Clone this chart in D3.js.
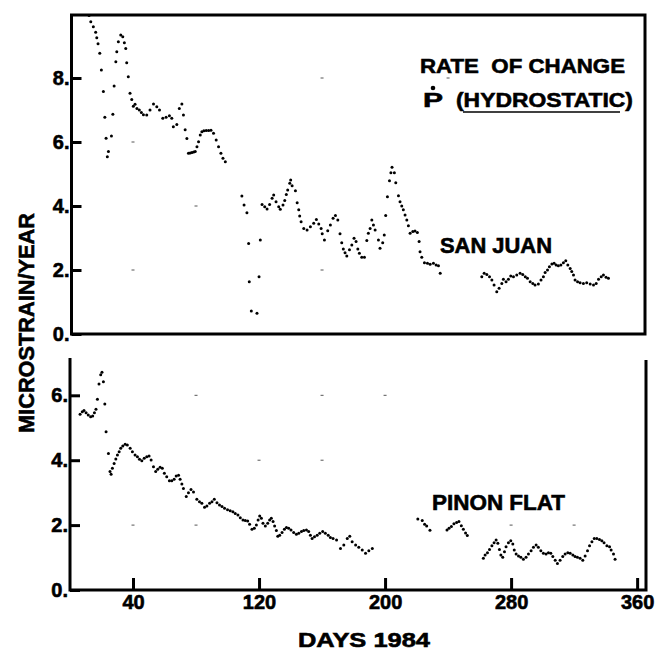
<!DOCTYPE html>
<html>
<head>
<meta charset="utf-8">
<script src="https://cdn.jsdelivr.net/npm/d3@7"></script>
<style>
  body { margin: 0; background: #fff; }
  text { font-family: "Liberation Sans", Arial, sans-serif; font-weight: bold; fill: #000; stroke: #000; stroke-width: 0.6px; }
</style>
</head>
<body>
<svg id="chart" width="671" height="651"></svg>
<script>
// San Juan, rate of change (microstrain / year), top panel
var sjDays = [12.1, 13.2, 14.8, 16.3, 17.0, 17.8, 18.9, 19.9, 21.2, 22.1, 22.9, 23.7, 24.4, 26.3, 27.2, 28.0,
  29.1, 29.7, 30.7, 32.2, 33.5, 34.5, 35.4, 36.0, 37.0, 38.1, 39.2, 40.2, 41.3, 42.5, 44.0, 45.3, 46.6, 48.7,
  50.8, 53.0, 55.1, 56.8, 58.9, 61.0, 63.1, 64.6, 65.6, 67.8, 69.4, 71.0, 72.0, 73.1, 74.2, 75.2, 76.3, 77.4,
  78.5, 79.5, 80.6, 81.6, 82.7, 83.7, 85.0, 86.5, 88.0, 89.5, 91.1, 92.8, 94.3, 95.8, 97.1, 98.6,
  109.1, 110.5, 112.3, 113.4, 113.8, 115.1, 118.7, 120.0, 120.8, 121.9, 123.6, 125.1, 126.7, 128.3, 129.3,
  130.8, 132.5, 133.5, 135.2, 136.3, 137.3, 138.2, 139.5, 140.1, 141.0, 143.1, 144.2, 145.2, 145.8, 146.7,
  148.4, 150.5, 152.6, 154.7, 156.4, 157.9, 159.4, 160.1, 161.5, 163.6, 165.3, 167.0, 168.5, 170.0, 171.4,
  172.5, 173.5, 174.6, 175.7, 177.4, 178.9, 180.3, 181.6, 182.7, 183.7, 185.2, 186.9, 188.4, 189.4, 190.5,
  191.6, 192.6, 193.7, 195.8, 196.8, 198.5, 199.5, 200.4, 201.5, 202.8, 203.7, 204.4, 205.9, 206.8, 208.5,
  209.5, 210.6, 211.6, 212.7, 213.8, 214.8, 215.9, 217.6, 219.0, 220.5, 221.6, 222.2, 223.3, 225.0, 226.9,
  228.6, 230.7, 232.4, 233.9, 235.0,
  261.4, 262.9, 264.6, 266.3, 267.8, 269.2, 270.9, 272.4, 274.1, 275.1, 276.8, 278.3, 279.8, 281.5, 283.6,
  285.7, 287.4, 289.0, 290.4, 292.1, 293.8, 295.2, 297.3, 299.0, 300.5, 301.6, 303.1, 304.3, 305.9, 307.3,
  308.6, 310.0, 311.6, 313.2, 314.7, 316.0, 317.5, 318.5, 319.6, 320.6, 322.2, 323.8, 325.9, 328.0, 330.2,
  332.3, 334.0, 335.5, 337.2, 338.6, 340.3, 341.8];
var sjRates = [9.95, 9.76, 9.60, 9.43, 9.26, 9.07, 8.77, 8.25, 7.58, 6.77, 6.12, 5.54, 5.70, 6.19, 6.87, 7.75,
  8.51, 8.82, 9.13, 9.34, 9.29, 9.10, 8.92, 8.48, 8.04, 7.52, 7.33, 7.12, 7.18, 7.05, 7.00, 6.92, 6.85, 6.84,
  7.00, 7.19, 7.10, 7.00, 6.74, 6.77, 6.82, 6.74, 6.48, 6.55, 7.05, 7.19, 6.84, 6.38, 6.11, 5.65, 5.66, 5.67,
  5.69, 5.70, 5.85, 6.01, 6.22, 6.32, 6.35, 6.36, 6.36, 6.37, 6.27, 6.06, 5.85, 5.65, 5.49, 5.38,
  4.31, 4.03, 3.79, 2.83, 1.63, 0.72, 0.65, 1.79, 2.94, 4.05, 3.98, 3.91, 4.05, 4.24, 4.34,
  4.13, 3.98, 3.90, 4.03, 4.17, 4.36, 4.50, 4.71, 4.81, 4.63, 4.48, 4.10, 3.88, 3.69, 3.51,
  3.30, 3.25, 3.35, 3.46, 3.58, 3.44, 3.30, 3.13, 2.94, 3.23, 3.41, 3.62, 3.70, 3.56, 3.13,
  2.85, 2.66, 2.54, 2.44, 2.63, 2.78, 2.99, 2.89, 2.66, 2.52, 2.40, 2.40, 2.92, 3.15, 3.30,
  3.56, 3.41, 3.25, 2.94, 2.68, 2.85, 3.09, 3.70, 4.29, 4.79, 5.04, 5.21, 5.04, 4.73, 4.32,
  4.13, 4.00, 3.88, 3.72, 3.56, 3.38, 3.15, 3.20, 3.22, 3.17, 2.89, 2.57, 2.40, 2.23, 2.21,
  2.18, 2.21, 2.16, 2.13, 1.90,
  1.79, 1.90, 1.86, 1.79, 1.69, 1.53, 1.32, 1.43, 1.58, 1.71, 1.63, 1.71, 1.81, 1.79, 1.84,
  1.90, 1.86, 1.79, 1.74, 1.63, 1.58, 1.53, 1.56, 1.69, 1.79, 1.92, 2.00, 2.10, 2.19, 2.21,
  2.16, 2.13, 2.16, 2.23, 2.29, 2.16, 2.05, 1.95, 1.84, 1.69, 1.63, 1.60, 1.58, 1.60, 1.56,
  1.53, 1.58, 1.71, 1.79, 1.84, 1.77, 1.74];

// Pinon Flat, bottom panel
var pfDays = [6.4, 7.8, 8.9, 10.2, 11.6, 13.1, 14.4, 15.5, 16.5, 17.4, 18.4, 19.5, 20.3, 21.2, 22.1, 22.9,
  24.4, 25.4, 26.1, 26.9, 28.0, 29.1, 30.1, 31.2, 32.2, 33.5, 35.0, 36.4, 38.2, 39.6, 41.3, 42.8, 44.1, 45.6,
  47.1, 48.7, 50.2, 51.5, 53.0, 54.4, 55.7, 57.2, 58.6, 59.9, 61.4, 63.1, 64.6, 66.1, 67.4, 68.9, 69.9, 71.0,
  72.0, 73.8, 75.2, 76.8, 78.4, 80.5, 82.2, 83.7, 85.4, 86.9, 88.6, 90.1, 91.6, 93.3, 94.9, 96.5, 98.1,
  100.0, 101.7, 103.4, 104.9, 106.6, 108.1, 109.8, 111.3, 112.8, 114.0, 115.5, 117.0, 118.3, 119.4, 120.4,
  121.5, 122.5, 124.0, 125.5, 126.7, 127.8, 128.9, 129.9, 131.0, 131.9, 133.1, 134.6, 136.1, 137.4, 138.8,
  140.3, 142.0, 143.7, 145.2, 146.9, 148.4, 150.1, 151.5, 152.6, 153.7, 155.2, 156.9, 158.5, 160.4, 162.1,
  163.9, 165.3, 167.0, 169.2, 171.7, 173.8, 176.0, 177.6, 179.1, 181.3, 183.3, 185.5, 187.6, 189.7, 191.9,
  220.8, 223.6, 225.1, 226.4, 228.5,
  239.3, 240.6, 242.1, 243.7, 245.4, 246.9, 248.4, 249.7, 251.1, 252.2,
  262.4, 263.5, 265.0, 266.3, 267.8, 269.2, 270.5, 271.6, 272.6, 273.5, 274.7, 275.8, 276.8, 278.3, 279.8,
  281.1, 282.0, 283.2, 284.7, 286.2, 287.8, 289.5, 291.0, 292.7, 294.2, 295.9, 297.3, 298.9, 300.5, 302.2,
  303.7, 305.2, 306.5, 308.0, 309.4, 311.1, 312.8, 314.3, 316.0, 317.5, 319.2, 320.6, 322.1, 323.8, 325.5,
  327.0, 328.5, 329.8, 331.3, 332.8, 334.4, 336.1, 337.6, 339.0, 340.8, 342.5, 343.5, 345.0, 346.0];
var pfRates = [5.42, 5.49, 5.53, 5.46, 5.39, 5.34, 5.36, 5.46, 5.57, 5.88, 6.35, 6.63, 6.71, 6.42, 5.73, 4.88,
  4.21, 3.65, 3.57, 3.75, 3.90, 4.04, 4.16, 4.26, 4.37, 4.44, 4.49, 4.47, 4.37, 4.26, 4.16, 4.11, 4.03, 3.98,
  4.06, 4.11, 4.13, 4.01, 3.80, 3.65, 3.72, 3.78, 3.75, 3.60, 3.49, 3.37, 3.37, 3.41, 3.51, 3.54, 3.41, 3.27,
  3.13, 2.88, 3.00, 3.10, 3.02, 2.80, 2.72, 2.67, 2.55, 2.59, 2.67, 2.72, 2.80, 2.69, 2.62, 2.57, 2.52,
  2.47, 2.44, 2.41, 2.36, 2.31, 2.23, 2.16, 2.14, 2.13, 2.03, 1.87, 1.90, 2.00, 2.16, 2.28,
  2.21, 2.06, 1.97, 2.06, 2.16, 2.21, 2.11, 1.97, 1.83, 1.66, 1.69, 1.77, 1.87, 1.93, 1.90,
  1.85, 1.77, 1.72, 1.75, 1.80, 1.83, 1.85, 1.80, 1.69, 1.59, 1.64, 1.69, 1.75, 1.80, 1.75,
  1.69, 1.62, 1.59, 1.54, 1.28, 1.39, 1.59, 1.66, 1.49, 1.39, 1.32, 1.23, 1.13, 1.21, 1.28,
  2.19, 2.14, 2.03, 1.97, 1.84,
  1.85, 1.90, 1.96, 2.04, 2.08, 2.11, 1.98, 1.87, 1.76, 1.68,
  0.98, 1.08, 1.15, 1.25, 1.36, 1.46, 1.54, 1.44, 1.25, 1.08, 1.01, 1.18, 1.33, 1.46, 1.52,
  1.42, 1.23, 1.11, 1.05, 1.01, 0.95, 1.01, 1.11, 1.21, 1.32, 1.39, 1.32, 1.21, 1.13, 1.11,
  1.15, 1.13, 1.03, 0.92, 0.82, 0.92, 1.03, 1.11, 1.15, 1.13, 1.08, 1.03, 1.01, 0.98, 0.92,
  1.05, 1.21, 1.36, 1.49, 1.59, 1.59, 1.56, 1.52, 1.46, 1.36, 1.33, 1.23, 1.11, 0.95];

var xTicks = [40, 120, 200, 280, 360];
var topYTicks = [0, 2, 4, 6, 8];
var botYTicks = [0, 2, 4, 6];

// faint grid crosses that show through on the print: [day, value]
var topGridMarks = [[40, 6], [80, 4], [40, 2], [160, 8], [160, 2], [240, 8]];
var botGridMarks = [[80, 6], [160, 6], [200, 6], [120, 4], [160, 4], [40, 2], [80, 2], [280, 2], [320, 2]];

var svg = d3.select("#chart");
svg.append("rect").attr("width", 671).attr("height", 651).attr("fill", "#fff");

var x = d3.scaleLinear().domain([0, 365]).range([70, 645]);
var yTop = d3.scaleLinear().domain([0, 10]).range([334, 14]);
var yBot = d3.scaleLinear().domain([0, 7.15]).range([590, 358]);

function drawGridMarks(marks, y) {
  svg.append("g").selectAll("line")
    .data(marks)
    .enter()
    .append("line")
    .attr("x1", function (d) { return x(d[0]) - 1.5; })
    .attr("x2", function (d) { return x(d[0]) + 1.5; })
    .attr("y1", function (d) { return y(d[1]); })
    .attr("y2", function (d) { return y(d[1]); })
    .attr("stroke", "#555")
    .attr("stroke-width", 1);
}

function drawDots(days, rates, y) {
  svg.append("g").selectAll("circle")
    .data(days)
    .enter()
    .append("circle")
    .attr("cx", function (d) { return x(d); })
    .attr("cy", function (d, i) { return y(rates[i]); })
    .attr("r", 1.5)
    .attr("fill", "#000");
}

function styleAxis(g, size) {
  g.select(".domain").remove();
  g.selectAll(".tick line").attr("stroke", "#000").attr("stroke-width", 3);
  g.selectAll(".tick text")
    .attr("font-size", size)
    .attr("font-family", "\"Liberation Sans\", Arial, sans-serif")
    .attr("font-weight", "bold")
    .attr("fill", "#000");
}

drawGridMarks(topGridMarks, yTop);
drawGridMarks(botGridMarks, yBot);

// top panel frame
svg.append("rect")
  .attr("x", x(0) + 1.5).attr("y", yTop(10) + 1)
  .attr("width", x(365) - x(0) - 1.5).attr("height", yTop(0) - yTop(10) - 1)
  .attr("fill", "none").attr("stroke", "#000").attr("stroke-width", 3);

// bottom panel: left, bottom and right lines only
svg.append("path")
  .attr("d", "M" + x(0) + "," + yBot(7.15) + "V" + yBot(0) + "H" + (x(365) + 1) + "V" + (yBot(7.15) + 2))
  .attr("fill", "none").attr("stroke", "#000").attr("stroke-width", 3);

var gTopY = svg.append("g")
  .attr("transform", "translate(" + (x(0) + 1.5) + ",0)")
  .call(d3.axisLeft(yTop).tickValues(topYTicks).tickSize(-10).tickPadding(2)
    .tickFormat(function (d) { return d + "."; }));
styleAxis(gTopY, 20);

var gBotY = svg.append("g")
  .attr("transform", "translate(" + x(0) + ",0)")
  .call(d3.axisLeft(yBot).tickValues(botYTicks).tickSize(-10).tickPadding(2)
    .tickFormat(function (d) { return d + "."; }));
styleAxis(gBotY, 20);

var gX = svg.append("g")
  .attr("transform", "translate(0," + yBot(0) + ")")
  .call(d3.axisBottom(x).tickValues(xTicks).tickSize(-12).tickPadding(5)
    .tickFormat(function (d) { return d; }));
styleAxis(gX, 20);

drawDots(sjDays, sjRates, yTop);
drawDots(pfDays, pfRates, yBot);

// labels
svg.append("text")
  .attr("transform", "translate(34,323) rotate(-90)")
  .attr("text-anchor", "middle")
  .attr("font-size", 22)
  .attr("textLength", 220).attr("lengthAdjust", "spacingAndGlyphs")
  .text("MICROSTRAIN/YEAR");

svg.append("text")
  .attr("x", 298).attr("y", 647)
  .attr("font-size", 21)
  .attr("textLength", 132).attr("lengthAdjust", "spacingAndGlyphs")
  .text("DAYS 1984");

svg.append("text")
  .attr("x", 420).attr("y", 73)
  .attr("font-size", 21)
  .attr("textLength", 205).attr("lengthAdjust", "spacingAndGlyphs")
  .style("white-space", "pre")
  .text("RATE  OF CHANGE");

svg.append("text")
  .attr("x", 423).attr("y", 107)
  .attr("font-size", 21)
  .attr("textLength", 20).attr("lengthAdjust", "spacingAndGlyphs")
  .text("P");
svg.append("circle").attr("cx", 433).attr("cy", 88).attr("r", 2.3).attr("fill", "#000");

svg.append("text")
  .attr("x", 456).attr("y", 107)
  .attr("font-size", 21)
  .attr("textLength", 177).attr("lengthAdjust", "spacingAndGlyphs")
  .text("(HYDROSTATIC)");
svg.append("line")
  .attr("x1", 463).attr("x2", 620).attr("y1", 112).attr("y2", 112)
  .attr("stroke", "#000").attr("stroke-width", 1.6);

svg.append("text")
  .attr("x", 440).attr("y", 253)
  .attr("font-size", 22)
  .attr("textLength", 112).attr("lengthAdjust", "spacingAndGlyphs")
  .text("SAN JUAN");

svg.append("text")
  .attr("x", 432).attr("y", 510)
  .attr("font-size", 22)
  .attr("textLength", 133).attr("lengthAdjust", "spacingAndGlyphs")
  .text("PINON FLAT");
</script>
</body>
</html>
